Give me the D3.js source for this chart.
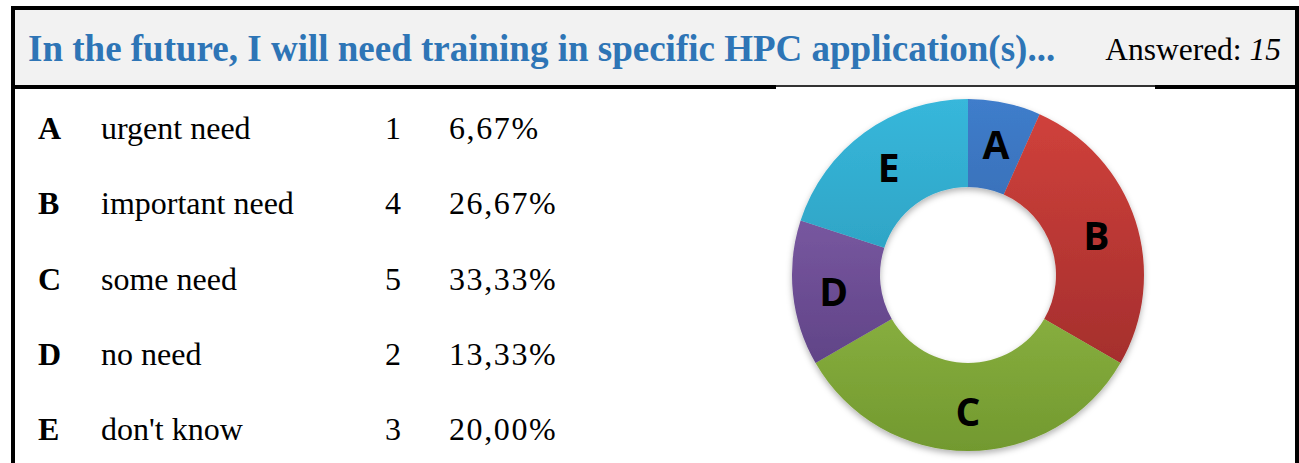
<!DOCTYPE html>
<html>
<head>
<meta charset="utf-8">
<script src="https://cdn.jsdelivr.net/npm/d3@7"></script>
<style>
  body { margin: 0; background: #fff; }
  svg { display: block; }
</style>
</head>
<body>
<div class="plot"></div>
<script>
// data
const letters = ["A", "B", "C", "D", "E"];
const answers = ["urgent need", "important need", "some need", "no need", "don't know"];
const counts = [1, 4, 5, 2, 3];
const percents = ["6,67%", "26,67%", "33,33%", "13,33%", "20,00%"];
const title = "In the future, I will need training in specific HPC application(s)...";
const answered = 15;

const W = 1299, H = 463;
// top / bottom colour of each slice gradient
const topColors = ["#3f7dcb", "#d2423c", "#a9d057", "#8b67b4", "#37b7db"];
const botColors = ["#2b5592", "#962828", "#72992f", "#523878", "#238daa"];

const svg = d3.select(".plot")
    .append("svg")
        .attr("width", W)
        .attr("height", H);

const defs = svg.append("defs");

// header box
svg.append("rect")
    .attr("x", 15).attr("y", 10)
    .attr("width", 1280).attr("height", 76)
    .attr("fill", "#f2f2f2");

// frame lines
svg.append("rect").attr("x", 11).attr("y", 6).attr("width", 1288).attr("height", 4).attr("fill", "#000");
svg.append("rect").attr("x", 11).attr("y", 6).attr("width", 4).attr("height", H).attr("fill", "#000");
svg.append("rect").attr("x", 1295).attr("y", 6).attr("width", 4).attr("height", H).attr("fill", "#000");
svg.append("rect").attr("x", 11).attr("y", 85).attr("width", 765).attr("height", 4).attr("fill", "#000");
svg.append("rect").attr("x", 1155).attr("y", 85).attr("width", 144).attr("height", 4).attr("fill", "#000");
svg.append("rect").attr("x", 776).attr("y", 85).attr("width", 379).attr("height", 2).attr("fill", "#333");

svg.append("text")
    .attr("x", 28)
    .attr("y", 61)
    .style("font-family", "'Liberation Serif', 'Times New Roman', serif")
    .style("font-weight", "bold")
    .style("font-size", "37px")
    .attr("fill", "#2e75b6")
    .text(title);

const ans = svg.append("text")
    .attr("x", 1281)
    .attr("y", 60)
    .attr("text-anchor", "end")
    .style("font-family", "'Liberation Serif', 'Times New Roman', serif")
    .style("font-size", "31.5px")
    .attr("fill", "#000");
ans.append("tspan").text("Answered: ");
ans.append("tspan").style("font-style", "italic").text(answered);

// table rows
const rowY = d3.scalePoint()
    .domain(letters)
    .range([139, 440]);

const rows = svg.selectAll(".row")
    .data(letters)
    .enter()
    .append("g")
        .attr("class", "row")
        .attr("transform", d => "translate(0," + rowY(d) + ")")
        .style("font-family", "'Liberation Serif', 'Times New Roman', serif")
        .style("font-size", "32px");

rows.append("text").attr("x", 38).style("font-weight", "bold").text(d => d);
rows.append("text").attr("x", 101).text((d, i) => answers[i]);
rows.append("text").attr("x", 385).text((d, i) => counts[i]);
rows.append("text").attr("x", 449).style("letter-spacing", "1.6px").text((d, i) => percents[i]);

// donut
const cx = 968, cy = 275, rOut = 176, rIn = 88;

letters.forEach((l, i) => {
    const g = defs.append("linearGradient")
        .attr("id", "grad" + l)
        .attr("gradientUnits", "userSpaceOnUse")
        .attr("x1", 0).attr("y1", -rOut)
        .attr("x2", 0).attr("y2", rOut);
    g.append("stop").attr("offset", "0%").attr("stop-color", topColors[i]);
    g.append("stop").attr("offset", "100%").attr("stop-color", botColors[i]);
});

const shadow = defs.append("filter")
    .attr("id", "shadow")
    .attr("x", "-20%").attr("y", "-20%")
    .attr("width", "140%").attr("height", "140%");
shadow.append("feDropShadow")
    .attr("dx", 0).attr("dy", 3)
    .attr("stdDeviation", 3)
    .attr("flood-color", "#000")
    .attr("flood-opacity", 0.3);

const pie = d3.pie().sort(null).value(d => d)(counts);
const arc = d3.arc().innerRadius(rIn).outerRadius(rOut);
const labelArc = d3.arc().innerRadius(rIn + 3).outerRadius(rOut + 3);

const donut = svg.append("g")
    .attr("transform", "translate(" + cx + "," + cy + ")");

donut.append("g")
    .attr("filter", "url(#shadow)")
    .selectAll("path")
    .data(pie)
    .enter()
    .append("path")
        .attr("d", arc)
        .attr("fill", (d, i) => "url(#grad" + letters[i] + ")");

donut.selectAll(".lbl")
    .data(pie)
    .enter()
    .append("text")
        .attr("class", "lbl")
        .attr("transform", d => "translate(" + labelArc.centroid(d) + ")")
        .attr("text-anchor", "middle")
        .attr("dy", "0.42em")
        .style("font-family", "'Open Sans', sans-serif")
        .style("font-weight", "bold")
        .style("font-size", "39px")
        .attr("fill", "#000")
        .text((d, i) => letters[i]);
</script>
</body>
</html>
